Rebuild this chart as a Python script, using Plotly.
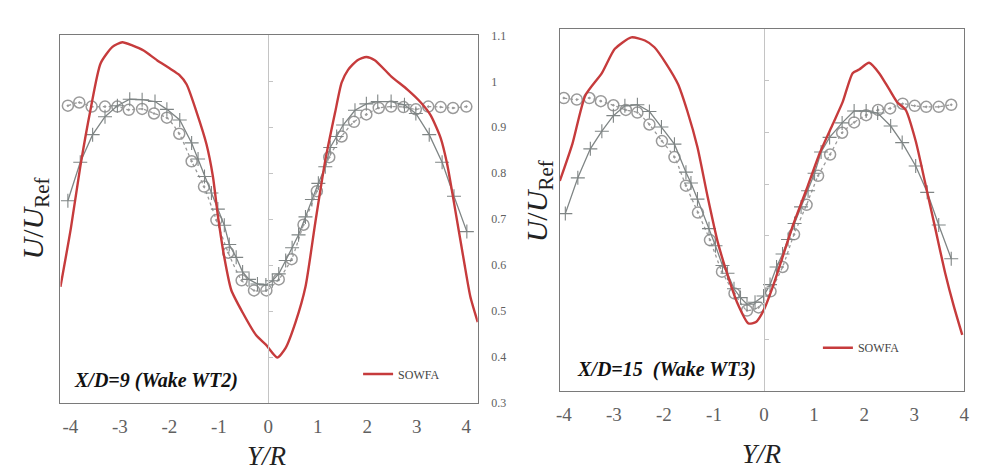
import plotly.graph_objects as go

# ---------------- data: panel 1 (X/D=9) ----------------
p1_sowfa_x = [-4.2, -3.99, -3.8, -3.59, -3.39, -3.15, -2.95, -2.75, -2.52, -2.25, -1.99, -1.8, -1.65,
              -1.45, -1.25, -1.12, -1.02, -0.89, -0.75, -0.52, -0.25, -0.05, 0.18, 0.35, 0.55, 0.75,
              0.95, 1.15, 1.35, 1.48, 1.61, 1.8, 1.98, 2.15, 2.48, 2.81, 3.08, 3.28, 3.48, 3.61, 3.75,
              3.95, 4.08, 4.23]
p1_sowfa_y = [0.553, 0.68, 0.814, 0.94, 1.039, 1.075, 1.085, 1.078, 1.067, 1.046, 1.028, 1.014, 0.993,
              0.933, 0.863, 0.793, 0.708, 0.617, 0.546, 0.497, 0.448, 0.427, 0.399, 0.42, 0.476, 0.553,
              0.694, 0.828, 0.933, 0.997, 1.025, 1.046, 1.053, 1.046, 1.011, 0.982, 0.954, 0.926, 0.877,
              0.821, 0.736, 0.61, 0.532, 0.476]

p1_cross_x = [-4.05, -3.8, -3.55, -3.3, -3.05, -2.8, -2.55, -2.29, -2.05, -1.79, -1.55, -1.42, -1.29,
              -1.15, -1.02, -0.89, -0.79, -0.65, -0.52, -0.39, -0.22, -0.05, 0.08, 0.21, 0.35, 0.48,
              0.61, 0.75, 0.88, 1.01, 1.15, 1.25, 1.38, 1.51, 1.75, 1.98, 2.21, 2.48, 2.75, 2.98, 3.25,
              3.51, 3.75, 4.01]
p1_cross_y = [0.74, 0.824, 0.884, 0.923, 0.947, 0.961, 0.96, 0.956, 0.939, 0.916, 0.866, 0.831, 0.793,
              0.757, 0.722, 0.687, 0.645, 0.617, 0.585, 0.569, 0.559, 0.557, 0.566, 0.581, 0.61, 0.638,
              0.666, 0.705, 0.743, 0.778, 0.814, 0.856, 0.88, 0.905, 0.937, 0.951, 0.956, 0.956, 0.949,
              0.93, 0.884, 0.824, 0.75, 0.673]

p1_circ_x = [-4.05, -3.82, -3.57, -3.3, -3.05, -2.82, -2.55, -2.31, -2.05, -1.8, -1.55, -1.3, -1.05,
             -0.81, -0.54, -0.29, -0.04, 0.21, 0.47, 0.71, 0.98, 1.23, 1.48, 1.73, 1.98, 2.23, 2.48,
             2.73, 2.98, 3.23, 3.48, 3.73, 4.0]
p1_circ_y = [0.947, 0.954, 0.945, 0.945, 0.945, 0.938, 0.94, 0.93, 0.921, 0.886, 0.826, 0.771, 0.698,
             0.627, 0.567, 0.545, 0.545, 0.569, 0.613, 0.688, 0.761, 0.835, 0.88, 0.912, 0.928, 0.942,
             0.945, 0.944, 0.939, 0.945, 0.944, 0.942, 0.945]

# ---------------- data: panel 2 (X/D=15) ----------------
p2_sowfa_x = [-4.08, -3.83, -3.57, -3.24, -2.98, -2.65, -2.38, -2.19, -1.96, -1.72, -1.53, -1.33, -1.13,
              -0.93, -0.74, -0.54, -0.31, -0.16, -0.01, 0.19, 0.38, 0.58, 0.85, 1.11, 1.37, 1.57, 1.77,
              1.9, 2.1, 2.3, 2.5, 2.66, 2.83, 3.03, 3.22, 3.42, 3.62, 3.79, 3.96]
p2_sowfa_y = [0.806, 0.877, 0.971, 1.014, 1.061, 1.083, 1.077, 1.064, 1.033, 0.993, 0.94, 0.871, 0.777,
              0.69, 0.628, 0.572, 0.531, 0.534, 0.556, 0.606, 0.662, 0.721, 0.79, 0.859, 0.915, 0.958,
              1.014, 1.021, 1.034, 1.014, 0.983, 0.958, 0.943, 0.883, 0.802, 0.715, 0.628, 0.565, 0.509]

p2_cross_x = [-3.97, -3.72, -3.47, -3.24, -3.01, -2.78, -2.53, -2.29, -2.05, -1.79, -1.56, -1.46, -1.33,
              -1.1, -0.97, -0.83, -0.73, -0.6, -0.47, -0.34, -0.18, -0.01, 0.12, 0.25, 0.37, 0.48, 0.61,
              0.74, 0.88, 1.01, 1.14, 1.31, 1.56, 1.8, 2.04, 2.27, 2.53, 2.76, 3.03, 3.26, 3.49, 3.74]
p2_cross_y = [0.743, 0.812, 0.868, 0.902, 0.932, 0.951, 0.953, 0.94, 0.91, 0.877, 0.823, 0.802, 0.771,
              0.714, 0.681, 0.643, 0.628, 0.598, 0.581, 0.568, 0.572, 0.584, 0.606, 0.64, 0.665, 0.693,
              0.724, 0.756, 0.787, 0.821, 0.862, 0.89, 0.918, 0.941, 0.941, 0.937, 0.912, 0.88, 0.835,
              0.784, 0.721, 0.656]

p2_circ_x = [-4.0, -3.74, -3.49, -3.26, -3.01, -2.76, -2.53, -2.29, -2.04, -1.79, -1.56, -1.32, -1.08,
             -0.84, -0.59, -0.34, -0.11, 0.13, 0.37, 0.6, 0.85, 1.08, 1.32, 1.56, 1.8, 2.04, 2.28, 2.52,
             2.77, 3.01, 3.24, 3.49, 3.74]
p2_circ_y = [0.966, 0.963, 0.966, 0.96, 0.952, 0.943, 0.938, 0.915, 0.883, 0.852, 0.797, 0.745, 0.692,
             0.631, 0.589, 0.556, 0.562, 0.593, 0.64, 0.703, 0.76, 0.816, 0.857, 0.899, 0.919, 0.933,
             0.943, 0.946, 0.955, 0.951, 0.949, 0.949, 0.953]

x_ticks = [-4, -3, -2, -1, 0, 1, 2, 3, 4]
p1_yticks = [0.3, 0.4, 0.5, 0.6, 0.7, 0.8, 0.9, 1.0, 1.1]
p1_yticklabels = ["0.3", "0.4", "0.5", "0.6", "0.7", "0.8", "0.9", "1", "1.1"]
p2_yticks = [0.4, 0.5, 0.6, 0.7, 0.8, 0.9, 1.0, 1.1]
p2_yticklabels = ["0.4", "0.5", "0.6", "0.7", "0.8", "0.9", "1", "1.1"]
panel_titles = ["X/D=9 (Wake WT2)", "X/D=15&nbsp;&nbsp;(Wake WT3)"]
legend_name = "SOWFA"

# ---------------- layout geometry ----------------
W, H = 985, 468
SERIF = "Liberation Serif"
RED = "#c63b3c"
CROSS_C = "#7f8585"
CIRC_C = "#9a9a9a"
FRAME_C = "#7a7a7a"
CENTER_C = "#c4c4c4"

p1_xr = [-4.2, 4.23]
p1_yr = [0.3, 1.1]
p1_dom_x = [49 / W, 471 / W]
p1_dom_y = [(H - 400) / H, (H - 21) / H]

p2_xr = [-4.08, 4.0]
p2_yr = [0.4, 1.1]
p2_dom_x = [554 / W, 963 / W]
p2_dom_y = [(H - 388) / H, (H - 14) / H]


def zero_pos(dom, xr):
    return dom[0] + (0 - xr[0]) / (xr[1] - xr[0]) * (dom[1] - dom[0])


fig = go.Figure()

panels = [
    ("x", "y", "y3", p1_sowfa_x, p1_sowfa_y, p1_cross_x, p1_cross_y, p1_circ_x, p1_circ_y, "legend"),
    ("x2", "y2", "y4", p2_sowfa_x, p2_sowfa_y, p2_cross_x, p2_cross_y, p2_circ_x, p2_circ_y, "legend2"),
]
for xa, ya, yc, sx, sy, cx, cy, ox, oy, lg in panels:
    fig.add_trace(go.Scatter(x=ox, y=oy, xaxis=xa, yaxis=ya, mode="lines+markers",
                             line=dict(color=CIRC_C, width=1.3, dash="dot", shape="spline", smoothing=0.6),
                             marker=dict(symbol="circle-open-dot", size=11, color=CIRC_C,
                                         line=dict(color=CIRC_C, width=1.5)),
                             showlegend=False, hoverinfo="skip"))
    fig.add_trace(go.Scatter(x=cx, y=cy, xaxis=xa, yaxis=ya, mode="lines+markers",
                             line=dict(color=CROSS_C, width=1.3),
                             marker=dict(symbol="cross-thin", size=10, color=CROSS_C,
                                         line=dict(color=CROSS_C, width=1.1)),
                             showlegend=False, hoverinfo="skip"))
    fig.add_trace(go.Scatter(x=sx, y=sy, xaxis=xa, yaxis=yc, mode="lines", name=legend_name,
                             line=dict(color=RED, width=2.4, shape="spline", smoothing=0.6),
                             showlegend=True, legend=lg))

common_x = dict(showgrid=False, zeroline=False, showline=True, mirror=True, linecolor=FRAME_C,
                linewidth=1, ticks="", tickvals=x_ticks, ticktext=[str(v) for v in x_ticks],
                ticklabelstandoff=6,
                tickfont=dict(family=SERIF, size=19, color="#606060"))
common_y = dict(showgrid=False, zeroline=False, showline=True, mirror=True, linecolor=FRAME_C,
                linewidth=1, ticks="", side="right", ticklabelstandoff=10,
                tickfont=dict(family=SERIF, size=12, color="#606060"))
center_y = dict(showgrid=False, zeroline=False, showline=True, linecolor=CENTER_C, linewidth=1.2,
                ticks="inside", ticklen=4, tickcolor=CENTER_C, showticklabels=False,
                anchor="free", side="left")

fig.update_layout(
    width=W, height=H, margin=dict(l=0, r=0, t=0, b=0),
    paper_bgcolor="white", plot_bgcolor="white",
    xaxis=dict(domain=p1_dom_x, range=p1_xr, anchor="y", **common_x),
    yaxis=dict(domain=p1_dom_y, range=p1_yr, anchor="x", tickvals=p1_yticks,
               ticktext=p1_yticklabels, **common_y),
    xaxis2=dict(domain=p2_dom_x, range=p2_xr, anchor="y2", **common_x),
    yaxis2=dict(domain=p2_dom_y, range=p2_yr, anchor="x2", tickvals=p2_yticks,
                ticktext=p2_yticklabels, **common_y),
    yaxis3=dict(overlaying="y", range=p1_yr, position=zero_pos(p1_dom_x, p1_xr),
                tickvals=p1_yticks, **center_y),
    yaxis4=dict(overlaying="y2", range=p2_yr, position=zero_pos(p2_dom_x, p2_xr),
                tickvals=p2_yticks, **center_y),
    legend=dict(x=350 / W, y=(H - 370) / H, xanchor="left", yanchor="middle",
                bgcolor="rgba(0,0,0,0)", font=dict(family=SERIF, size=12, color="#444"),
                itemwidth=30),
    legend2=dict(x=815 / W, y=(H - 343) / H, xanchor="left", yanchor="middle",
                 bgcolor="rgba(0,0,0,0)", font=dict(family=SERIF, size=12, color="#444"),
                 itemwidth=30),
)

annots = [
    dict(text="<b><i>" + panel_titles[0] + "</i></b>", x=62 / W, y=(H - 377) / H),
    dict(text="<b><i>" + panel_titles[1] + "</i></b>", x=570 / W, y=(H - 365) / H),
]
for a in annots:
    fig.add_annotation(xref="paper", yref="paper", showarrow=False, xanchor="left",
                       yanchor="middle", font=dict(family=SERIF, size=20, color="#111"),
                       bgcolor="white", borderpad=0, **a)

for cx_, cy_ in [(258, 455), (758, 453)]:
    fig.add_annotation(xref="paper", yref="paper", x=cx_ / W, y=(H - cy_) / H, showarrow=False,
                       text="<i>Y/R</i>", font=dict(family=SERIF, size=27, color="#222"),
                       xanchor="center", yanchor="middle")
for cx_, cy_ in [(23, 210), (533, 192)]:
    fig.add_annotation(xref="paper", yref="paper", x=cx_ / W, y=(H - cy_) / H, showarrow=False,
                       text="<i>U</i>/<i>U</i><sub>Ref</sub>", textangle=-90,
                       font=dict(family=SERIF, size=30, color="#222"),
                       xanchor="center", yanchor="middle")

fig.write_html("out.html")
